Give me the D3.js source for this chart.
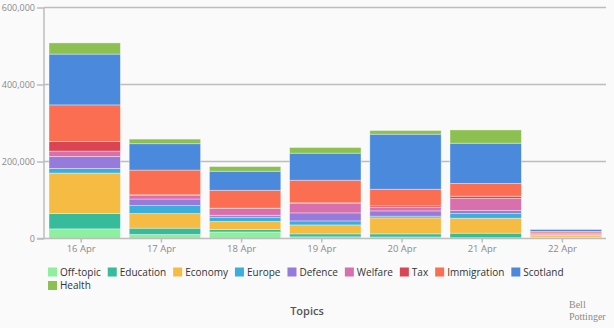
<!DOCTYPE html>
<html>
<head>
<meta charset="utf-8">
<script src="https://cdn.jsdelivr.net/npm/d3@7"></script>
<style>
  html, body { margin: 0; padding: 0; background: #fafafa; }
  svg { display: block; }
  text { font-family: "Open Sans", sans-serif; }
</style>
</head>
<body>
<svg id="chart" width="614" height="328"></svg>
<script>
const days = ["16 Apr", "17 Apr", "18 Apr", "19 Apr", "20 Apr", "21 Apr", "22 Apr"];
const topics = ["Off-topic", "Education", "Economy", "Europe", "Defence", "Welfare", "Tax", "Immigration", "Scotland", "Health"];
const colors = ["#8ef09e", "#37bc9b", "#f6bb42", "#3bafda", "#967adc", "#d770ad", "#da4453", "#fc6e51", "#4a89dc", "#8cc152"];

const offTopic    = [25000, 10400, 17000,  4300,   4000,   2000, 1500];
const education   = [40000, 16400,  6400,  7700,   8000,  11800, 1000];
const economy     = [105000, 38000, 20800, 23300, 41500,  38900, 4500];
const europe      = [12000, 20700, 11000, 10400,  4500,  12200, 1500];
const defence     = [31000, 17000,  5200, 20800, 13700,   7800, 1500];
const welfare     = [14000,  9000, 17400, 25200,  8800,  31200, 4000];
const tax         = [25000,  2000,  1000,  1000,  4200,   6000,  500];
const immigration = [95000, 64200, 46500, 58700, 43300,  33000, 4000];
const scotland    = [132000, 68500, 49400, 70200, 142900, 104600, 5000];
const health      = [29000, 12000, 12200, 14700,  9600,  34500, 1000];

const yTicks = [0, 200000, 400000, 600000];
const seriesValues = [offTopic, education, economy, europe, defence, welfare, tax, immigration, scotland, health];

(function () {
const rows = days.map((d, i) => {
  const r = { day: d };
  topics.forEach((t, k) => { r[t] = seriesValues[k][i]; });
  return r;
});
const stacked = d3.stack().keys(topics)(rows);

const svg = d3.select("#chart");
const mLeft = 44, mRight = 606, mTop = 7.5, mBottom = 238.5;

const x = d3.scaleBand().domain(days).range([mLeft + 0.6, mRight]).paddingInner(0.11).paddingOuter(0.055);
const y = d3.scaleLinear().domain([0, 600000]).range([mBottom, mTop]);

// gridlines
svg.append("g")
  .selectAll("line")
  .data(yTicks.filter(v => v > 0))
  .join("line")
  .attr("x1", mLeft).attr("x2", mRight)
  .attr("y1", d => y(d)).attr("y2", d => y(d))
  .attr("stroke", "#bdbdbd").attr("stroke-width", 1.5);

// y axis
const yAxis = svg.append("g")
  .attr("transform", `translate(${mLeft},0)`)
  .call(d3.axisLeft(y).tickValues(yTicks).tickFormat(d3.format(",")).tickSize(7).tickPadding(2));
yAxis.select(".domain").attr("stroke", "#bdbdbd").attr("stroke-width", 1.5).attr("d", `M0,${mTop}V${mBottom}`);
yAxis.selectAll(".tick line").attr("stroke", "#bdbdbd").attr("stroke-width", 1.5);
yAxis.selectAll(".tick text").attr("fill", "#8a8a8a").style("font-size", "9px").style("font-family", "Open Sans, sans-serif");

// bars
svg.append("g")
  .selectAll("g")
  .data(stacked)
  .join("g")
  .attr("fill", (d, i) => colors[i])
  .selectAll("rect")
  .data(d => d)
  .join("rect")
  .attr("x", d => x(d.data.day))
  .attr("width", x.bandwidth())
  .attr("y", d => y(d[1]))
  .attr("height", d => Math.max(0, y(d[0]) - y(d[1])))
  .attr("stroke", "#ffffff")
  .attr("stroke-opacity", 0.45)
  .attr("stroke-width", 0.8);

// x axis
const xAxisG = svg.append("g")
  .attr("transform", `translate(0,${mBottom})`);
xAxisG.append("line")
  .attr("x1", mLeft - 7).attr("x2", mRight)
  .attr("y1", 0).attr("y2", 0)
  .attr("stroke", "#bdbdbd").attr("stroke-width", 1.5);
const xt = xAxisG.append("g")
  .attr("transform", "translate(-3.5,0)")
  .call(d3.axisBottom(x).tickSize(4).tickPadding(3));
xt.select(".domain").remove();
xt.selectAll(".tick line").attr("stroke", "#bdbdbd").attr("stroke-width", 1.5);
xt.selectAll(".tick text").attr("fill", "#8a8a8a").style("font-size", "9.5px").style("font-family", "Open Sans, sans-serif");

// legend
const legend = svg.append("g");
let lx = 48, ly = 272;
const maxX = 580;
topics.forEach((t, i) => {
  const g = legend.append("g");
  g.append("rect").attr("x", 0).attr("y", -4.5).attr("width", 9).attr("height", 9).attr("fill", colors[i]);
  const txt = g.append("text").attr("x", 12).attr("y", 0).attr("dy", "0.35em")
    .attr("fill", "#333").style("font-size", "10px").text(t);
  const w = 12 + txt.node().getComputedTextLength();
  if (lx + w > maxX) { lx = 48; ly += 13.5; }
  g.attr("transform", `translate(${lx},${ly})`);
  lx += w + 7;
});

// title
svg.append("text").attr("x", 307).attr("y", 311).attr("dy", "0.35em")
  .attr("text-anchor", "middle").attr("fill", "#555").style("font-size", "11px").style("font-weight", "600")
  .text("Topics");

// credit
const credit = svg.append("text").attr("x", 569).attr("y", 304).attr("dy", "0.35em")
  .attr("fill", "#8a8a8a").style("font-size", "10px").style("font-family", "Liberation Serif, serif");
credit.append("tspan").attr("x", 569).text("Bell");
credit.append("tspan").attr("x", 569).attr("dy", "12.5").text("Pottinger");
})();
</script>
</body>
</html>
